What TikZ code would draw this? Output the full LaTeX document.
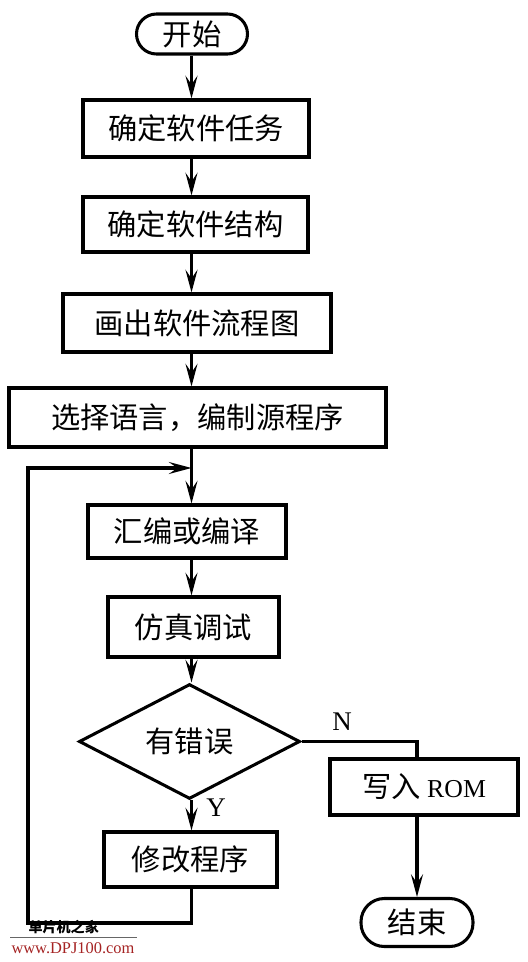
\documentclass[tikz,border=0pt]{standalone}
\usepackage{fontspec}
\setmainfont{Liberation Serif}
\newfontfamily\cjkfont{Noto Sans CJK SC}
\definecolor{dpjred}{RGB}{165, 35, 35}
\usepackage{tikz}
\usetikzlibrary{shapes.geometric, arrows.meta}

\begin{document}
\begin{tikzpicture}[
  x=0.03cm, y=-0.03cm,
  line width=2.6pt,
  every node/.style={font=\cjkfont\fontsize{25}{29}\selectfont},
  proc/.style={draw, rectangle, inner sep=0pt},
  term/.style={draw, rectangle, inner sep=0pt},
  decide/.style={draw, diamond, inner sep=0pt},
  flow/.style={-{Stealth[length=6.8mm, width=3.6mm, inset=2.6mm]}},
  lbl/.style={font=\rmfamily\fontsize{23}{27}\selectfont}
]
  \useasboundingbox (0,0) rectangle (527,962);
  \coordinate (spine) at (191.5,0);
  \coordinate (corner) at (28,923);
  \coordinate (join) at (191.5,468);

  \node[term, minimum width=3.33cm, minimum height=1.2cm, rounded corners=6mm] (start) at (192,34) {开始};
  \node[proc, minimum width=6.78cm, minimum height=1.71cm] (task) at (196,128.5) {确定软件任务};
  \node[proc, minimum width=6.75cm, minimum height=1.65cm] (struct) at (195.5,224.5) {确定软件结构};
  \node[proc, minimum width=8.04cm, minimum height=1.74cm] (chart) at (197,323) {画出软件流程图};
  \node[proc, minimum width=11.31cm, minimum height=1.77cm] (code) at (197.5,417.5) {选择语言，编制源程序};
  \node[proc, minimum width=5.94cm, minimum height=1.59cm] (build) at (187,531.5) {汇编或编译};
  \node[proc, minimum width=5.13cm, minimum height=1.8cm] (sim) at (193.5,627) {仿真调试};
  \node[decide, minimum width=6.63cm, minimum height=2.79cm] (err) at (189.5,741.5) {有错误};
  \node[proc, minimum width=5.64cm, minimum height=1.68cm] (rom) at (424,787) {写入 {\rmfamily\fontsize{22}{26}\selectfont ROM}};
  \node[proc, minimum width=5.19cm, minimum height=1.65cm] (fix) at (190.5,859.5) {修改程序};
  \node[term, minimum width=3.36cm, minimum height=1.44cm, rounded corners=7mm] (stop) at (417,922.5) {结束};

  \node[lbl] (no) at (342,722) {N};
  \node[lbl] (yes) at (216,808) {Y};

  \draw[flow] (start.south -| spine) -- (task.north -| spine);
  \draw[flow] (task.south -| spine) -- (struct.north -| spine);
  \draw[flow] (struct.south -| spine) -- (chart.north -| spine);
  \draw[flow] (chart.south -| spine) -- (code.north -| spine);
  \draw[flow] (code.south -| spine) -- (build.north -| spine);
  \draw[flow] (build.south -| spine) -- (sim.north -| spine);
  \draw[flow] (sim.south -| spine) -- (err.north -| spine);
  \draw[flow] (err.south -| spine) -- (fix.north -| spine);
  \draw (err.east) -| (rom.north -| stop);
  \draw[flow] (rom.south -| stop) -- (stop.north);
  \draw[flow] (fix.south -| spine) |- (corner) |- (join);

  \node[font=\cjkfont\bfseries\fontsize{12}{13}\selectfont, anchor=west, inner sep=0pt] (wmname) at (27,927) {单片机之家};
  \draw[line width=0.6pt, black!60] (10,937) -- (137,937);
  \node[font=\rmfamily\fontsize{14}{16}\selectfont, text=dpjred, anchor=west, inner sep=0pt] (wmurl) at (10,948) {www.DPJ100.com};
\end{tikzpicture}
\end{document}
